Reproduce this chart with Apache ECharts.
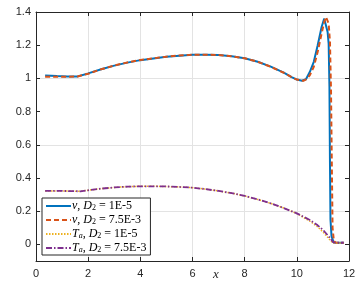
<!DOCTYPE html>
<html><head><meta charset="utf-8">
<script src="https://cdn.jsdelivr.net/npm/echarts@6/dist/echarts.min.js"></script>
<style>html,body{margin:0;padding:0;background:#fff}#c{width:364px;height:291px}</style>
</head><body><div id="c"></div>
<script>
const xTicks = [0, 2, 4, 6, 8, 10, 12];
const yTicks = [0, 0.2, 0.4, 0.6, 0.8, 1, 1.2, 1.4];

const vLowX = [0.35,0.8,1.2,1.6,2.0,2.5,3.0,3.5,4.0,4.5,5.0,5.5,6.0,6.5,7.0,7.5,8.0,8.5,9.0,9.5,9.8,10.0,10.2,10.35,10.5,10.65,10.8,10.95,11.05,11.12,11.18,11.22,11.25,11.27,11.29,11.33,11.41,11.6,11.8];
const vLowY = [1.017,1.014,1.012,1.012,1.03,1.055,1.077,1.095,1.11,1.12,1.13,1.137,1.142,1.143,1.141,1.134,1.121,1.1,1.071,1.035,1.008,0.993,0.986,0.995,1.04,1.1,1.2,1.31,1.36,1.35,1.28,1.21,0.95,0.5,0.15,0.05,0.012,0.01,0.01];

const vHighX = [0.35,0.8,1.2,1.6,2.0,2.5,3.0,3.5,4.0,4.5,5.0,5.5,6.0,6.5,7.0,7.5,8.0,8.5,9.0,9.5,9.8,10.0,10.25,10.4,10.5,10.65,10.8,10.95,11.05,11.12,11.17,11.22,11.27,11.31,11.34,11.37,11.42,11.5,11.8];
const vHighY = [1.01,1.01,1.01,1.012,1.028,1.055,1.078,1.096,1.111,1.121,1.131,1.138,1.142,1.143,1.141,1.134,1.121,1.1,1.07,1.034,1.007,0.993,0.985,0.998,1.02,1.07,1.16,1.27,1.34,1.37,1.38,1.33,1.22,0.93,0.5,0.1,0.02,0.01,0.01];

const taLowX = [0.35,1.0,1.7,2.0,2.5,3.0,3.5,4.0,4.5,5.0,5.5,6.0,6.5,7.0,7.5,8.0,8.5,9.0,9.5,10.0,10.5,10.8,11.0,11.2,11.3,11.4,11.6,11.8];
const taLowY = [0.322,0.322,0.32,0.326,0.336,0.343,0.348,0.35,0.35,0.349,0.346,0.342,0.333,0.322,0.309,0.292,0.271,0.247,0.219,0.186,0.14,0.105,0.075,0.04,0.02,0.008,0.008,0.008];

const taHighX = [0.35,1.0,1.7,2.0,2.5,3.0,3.5,4.0,4.5,5.0,5.5,6.0,6.5,7.0,7.5,8.0,8.5,9.0,9.5,10.0,10.5,10.8,11.0,11.2,11.3,11.4,11.6,11.8];
const taHighY = [0.322,0.322,0.32,0.326,0.336,0.343,0.348,0.35,0.35,0.349,0.346,0.342,0.333,0.322,0.309,0.292,0.271,0.247,0.219,0.187,0.147,0.115,0.088,0.052,0.033,0.012,0.01,0.01];

const names = ['v1','v2','t1','t2'];
const legendText = {
  v1: '{i|v}, {i|D}{s|2} = 1E-5',
  v2: '{i|v}, {i|D}{s|2} = 7.5E-3',
  t1: '{i|T}{si|a}, {i|D}{s|2} = 1E-5',
  t2: '{i|T}{si|a}, {i|D}{s|2} = 7.5E-3'
};

function pairs(xs, ys){ return xs.map((x,i)=>[x, ys[i]]); }

const axisCol = '#262626';
const gridCol = '#e3e3e3';
const tickFont = {fontFamily:'Liberation Sans', fontSize:11, color:axisCol};

const chart = echarts.init(document.getElementById('c'), null, {renderer:'canvas'});
chart.setOption({
  animation:false,
  backgroundColor:'#fff',
  grid:{left:36, top:12, right:15, bottom:30, containLabel:false},
  xAxis:[
    {type:'value', min:0, max:12, interval:2, position:'bottom',
     axisLine:{show:true, onZero:false, lineStyle:{color:axisCol, width:1}},
     axisTick:{show:true, inside:true, length:4, lineStyle:{color:axisCol}},
     axisLabel:Object.assign({margin:7, formatter:v=>xTicks.includes(v)?String(v):''}, tickFont),
     splitLine:{show:true, lineStyle:{color:gridCol, width:1}}},
    {type:'value', min:0, max:12, interval:2, position:'top',
     axisLine:{show:true, onZero:false, lineStyle:{color:axisCol, width:1}},
     axisTick:{show:true, inside:true, length:4, lineStyle:{color:axisCol}},
     axisLabel:{show:false}, splitLine:{show:false}}
  ],
  yAxis:[
    {type:'value', min:-0.1, max:1.4, interval:0.1, position:'left',
     axisLine:{show:true, onZero:false, lineStyle:{color:axisCol, width:1}},
     axisTick:{show:true, inside:true, length:4, lineStyle:{color:axisCol}, customValues:yTicks},
     axisLabel:Object.assign({margin:5, customValues:yTicks, formatter:v=>{const r=Math.round(v*10)/10; return String(r);}}, tickFont),
     splitLine:{show:true, lineStyle:{color:['rgba(0,0,0,0)', gridCol], width:1}}},
    {type:'value', min:-0.1, max:1.4, interval:0.1, position:'right',
     axisLine:{show:true, onZero:false, lineStyle:{color:axisCol, width:1}},
     axisTick:{show:true, inside:true, length:4, lineStyle:{color:axisCol}, customValues:yTicks},
     axisLabel:{show:false}, splitLine:{show:false}}
  ],
  legend:{
    orient:'vertical', left:42, top:198, data:names,
    backgroundColor:'#fff', borderColor:axisCol, borderWidth:1,
    padding:[2,4,1,3], itemWidth:25, itemHeight:10, itemGap:2,
    itemStyle:{opacity:0},
    formatter:n=>legendText[n],
    textStyle:{fontFamily:'Liberation Serif', fontSize:12, color:'#000', padding:[0,0,0,-4], lineHeight:12,
      rich:{
        i:{fontFamily:'Liberation Serif', fontStyle:'italic', fontSize:12, color:'#000', lineHeight:12},
        s:{fontFamily:'Liberation Serif', fontSize:8, color:'#000', padding:[4,0,0,0], lineHeight:8},
        si:{fontFamily:'Liberation Serif', fontStyle:'italic', fontSize:8, color:'#000', padding:[4,0,0,0], lineHeight:8}
      }}
  },
  graphic:[{type:'text', left:213, top:268, style:{text:'x', font:'italic 13px "Liberation Serif"', fill:axisCol}}],
  series:[
    {name:'v1', type:'line', data:pairs(vLowX,vLowY), symbol:'none', z:2,
     lineStyle:{color:'#0072BD', width:2}, itemStyle:{color:'#0072BD'}},
    {name:'v2', type:'line', data:pairs(vHighX,vHighY), symbol:'none', z:3,
     lineStyle:{color:'#D95319', width:2, type:[5,3]}, itemStyle:{color:'#D95319'}},
    {name:'t1', type:'line', data:pairs(taLowX,taLowY), symbol:'none', z:4,
     lineStyle:{color:'#EDB120', width:1.5, type:[1.5,1.5]}, itemStyle:{color:'#EDB120'}},
    {name:'t2', type:'line', data:pairs(taHighX,taHighY), symbol:'none', z:5,
     lineStyle:{color:'#7E2F8E', width:1.8, type:[6,2,1.5,2]}, itemStyle:{color:'#7E2F8E'}}
  ]
});
</script></body></html>
